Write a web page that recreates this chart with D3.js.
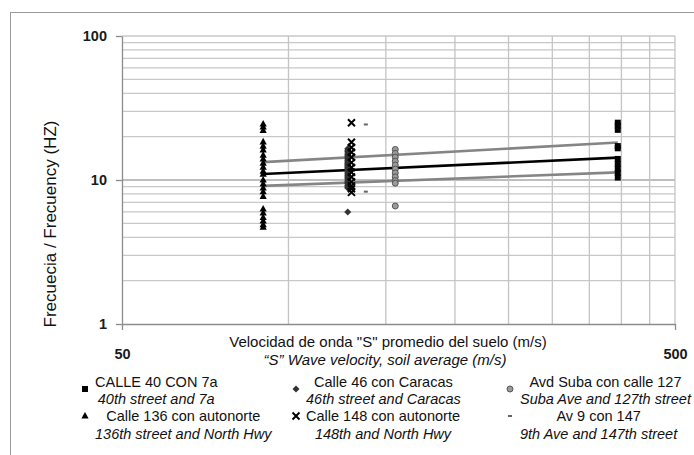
<!DOCTYPE html>
<html>
<head>
<meta charset="utf-8">
<script src="https://cdn.jsdelivr.net/npm/d3@7"></script>
<style>
  body { margin: 0; background: #fff; }
  svg { display: block; font-family: "Liberation Sans", Arial, sans-serif; }
</style>
</head>
<body>
<svg id="chart" width="694" height="455"></svg>
<script>
// series names (Spanish + English line)
const seriesNames = ["CALLE 40 CON 7a", "Calle 46 con Caracas", "Avd Suba con calle 127",
                     "Calle 136 con autonorte", "Calle 148 con autonorte", "Av 9 con 147"];
const seriesNamesEn = ["40th street and 7a", "46th street and Caracas", "Suba Ave and 127th street",
                       "136th street and North Hwy", "148th and North Hwy", "9th Ave and 147th street"];

// average S wave velocity of each site (m/s)
const velocity = [394, 128, 156, 90, 130, 138];

// measured frequencies (Hz) per site
const freqCalle40 = [25, 23.8, 22.3, 17.2, 16.6, 14.0, 12.9, 12.0, 11.2, 10.4];
const freqCalle46 = [16.5, 16.1, 15.8, 15.4, 15.1, 14.8, 14.5, 14.2, 14.0, 13.7, 13.5, 13.2, 13.0,
                     12.8, 12.6, 12.4, 12.2, 12.0, 11.8, 11.6, 11.4, 11.2, 11.0, 10.8, 10.6, 10.4,
                     10.2, 10.0, 9.8, 9.6, 9.4, 9.2, 9.1, 8.9, 8.8, 6.0];
const freqSuba = [16.3, 15.3, 14.4, 13.5, 12.7, 11.9, 11.2, 10.5, 9.9, 9.5, 6.6];
const freqCalle136 = [24.5, 23.4, 22.1, 18.4, 17.2, 16.2, 14.9, 14.0, 13.1, 12.3, 11.5, 11.0,
                      10.0, 9.4, 8.8, 8.3, 7.7, 6.3, 5.9, 5.5, 5.2, 4.9, 4.7];
const freqCalle148 = [25, 18.3, 16.8, 15.6, 14.4, 13.2, 12.2, 11.3, 10.5, 9.7, 9.1, 8.7, 8.2];
const freqAv9 = [24.3, 8.3];

const frequencies = [freqCalle40, freqCalle46, freqSuba, freqCalle136, freqCalle148, freqAv9];

// trend lines (mean and +/- band)
const trendVelocity = [90, 394];
const trendMean = [11.0, 14.3];
const trendUpper = [13.3, 18.2];
const trendLower = [9.1, 11.3];

// axis ticks
const xTicks = [50, 500];
const yTicks = [1, 10, 100];
const xGrid = [100, 150, 200, 250, 300, 350, 400, 450, 500];
const yGrid = [2, 3, 4, 5, 6, 7, 8, 9, 10, 20, 30, 40, 50, 60, 70, 80, 90, 100];

// marker style per series, same order as names
const symbolType = ["square", "diamond", "circle", "triangle", "times", "dash"];

const svg = d3.select("#chart");

// outer frame
svg.append("rect")
    .attr("x", 10.5).attr("y", 12.5)
    .attr("width", 720).attr("height", 480)
    .attr("fill", "none").attr("stroke", "#9a9a9a");

const x = d3.scaleLog().domain([50, 500]).range([122, 675]);
const y = d3.scaleLog().domain([1, 100]).range([324, 36]);

// gridlines
svg.append("g").selectAll("line")
    .data(yGrid).enter().append("line")
    .attr("x1", x(50)).attr("x2", x(500))
    .attr("y1", d => y(d)).attr("y2", d => y(d))
    .attr("stroke", d => d === 10 ? "#a8a8a8" : "#c8c8c8")
    .attr("stroke-width", 1.3);

svg.append("g").selectAll("line")
    .data(xGrid).enter().append("line")
    .attr("x1", d => x(d)).attr("x2", d => x(d))
    .attr("y1", y(1)).attr("y2", y(100))
    .attr("stroke", "#c4c4c4")
    .attr("stroke-width", 1.3);

// axes
const yAxis = d3.axisLeft(y).tickValues(yTicks).tickFormat(d3.format("d"))
    .tickSize(6).tickSizeOuter(0).tickPadding(9);
const gy = svg.append("g").attr("transform", "translate(" + x(50) + ",0)").call(yAxis);

const xAxis = d3.axisBottom(x).tickValues(xTicks).tickFormat(d3.format("d"))
    .tickSize(6).tickSizeOuter(0).tickPadding(19);
const gx = svg.append("g").attr("transform", "translate(0," + y(1) + ")").call(xAxis);

[gx, gy].forEach(function(g)
{
    g.select(".domain").attr("stroke", "#8c8c8c").attr("stroke-width", 1.3);
    g.selectAll(".tick line").attr("stroke", "#8c8c8c").attr("stroke-width", 1.3);
    g.selectAll(".tick text")
        .attr("font-family", "'Liberation Sans', Arial, sans-serif")
        .attr("font-size", 14.5).attr("font-weight", "bold").attr("fill", "#1a1a1a");
});

// axis titles
svg.append("text")
    .attr("transform", "translate(56,224) rotate(-90)")
    .attr("text-anchor", "middle")
    .attr("font-size", 17).attr("fill", "#111")
    .text("Frecuecia / Frecuency (HZ)");

svg.append("text")
    .attr("x", 388).attr("y", 347)
    .attr("text-anchor", "middle").attr("font-size", 15).attr("fill", "#111")
    .text("Velocidad de onda \"S\" promedio del suelo (m/s)");

svg.append("text")
    .attr("x", 385).attr("y", 365)
    .attr("text-anchor", "middle").attr("font-size", 15)
    .attr("font-style", "italic").attr("fill", "#111")
    .text("\u201cS\u201d Wave velocity, soil average (m/s)");

// trend lines
const line = d3.line().x(d => x(d[0])).y(d => y(d[1]));
const trends = [
    { values: trendUpper, color: "#858585" },
    { values: trendLower, color: "#858585" },
    { values: trendMean, color: "#000" }
];
svg.append("g").selectAll("path")
    .data(trends).enter().append("path")
    .attr("d", d => line(trendVelocity.map((v, i) => [v, d.values[i]])))
    .attr("fill", "none")
    .attr("stroke", d => d.color)
    .attr("stroke-width", 2.6);

// marker drawing
function drawMarker(g, type)
{
    if (type === "square")
        g.append("rect").attr("x", -3).attr("y", -3).attr("width", 6).attr("height", 6).attr("fill", "#000");
    else if (type === "diamond")
        g.append("path").attr("d", "M0,-3.5L3.5,0L0,3.5L-3.5,0Z").attr("fill", "#333");
    else if (type === "circle")
        g.append("circle").attr("r", 3).attr("fill", "#9a9a9a").attr("stroke", "#555").attr("stroke-width", 1);
    else if (type === "triangle")
        g.append("path").attr("d", "M0,-4L3.6,2.6L-3.6,2.6Z").attr("fill", "#000");
    else if (type === "times")
        g.append("path").attr("d", "M-3.5,-3.5L3.5,3.5M3.5,-3.5L-3.5,3.5")
            .attr("stroke", "#000").attr("stroke-width", 2).attr("fill", "none");
    else if (type === "dash")
        g.append("rect").attr("x", -2).attr("y", -1).attr("width", 4).attr("height", 2).attr("fill", "#666");
}

const points = [];
frequencies.forEach(function(list, s)
{
    list.forEach(function(f) { points.push({ s: s, v: velocity[s], f: f }); });
});

svg.append("g").selectAll("g")
    .data(points).enter().append("g")
    .attr("transform", d => "translate(" + x(d.v) + "," + y(d.f) + ")")
    .each(function(d) { drawMarker(d3.select(this), symbolType[d.s]); });

// legend, 3 columns x 2 rows
const legendMarkerX = [85, 296, 510];
const legendMarkerY = [389, 416];
const legendLine1Y = [387, 421];
const legendLine2Y = [404, 439];

const legend = svg.append("g").attr("font-size", 14.5).attr("fill", "#111");
seriesNames.forEach(function(name, i)
{
    const col = i % 3, row = Math.floor(i / 3);
    const mx = legendMarkerX[col];
    const m = legend.append("g").attr("transform", "translate(" + mx + "," + legendMarkerY[row] + ")");
    drawMarker(m, symbolType[i]);

    const t1 = legend.append("text").attr("y", legendLine1Y[row]).attr("text-anchor", "middle").text(name);
    const t2 = legend.append("text").attr("y", legendLine2Y[row]).attr("text-anchor", "middle")
        .attr("font-style", "italic").text(seriesNamesEn[i]);
    const w = Math.max(t1.node().getComputedTextLength(), t2.node().getComputedTextLength());
    const cx = mx + 10 + w / 2;
    t1.attr("x", cx);
    t2.attr("x", cx);
});
</script>
</body>
</html>
